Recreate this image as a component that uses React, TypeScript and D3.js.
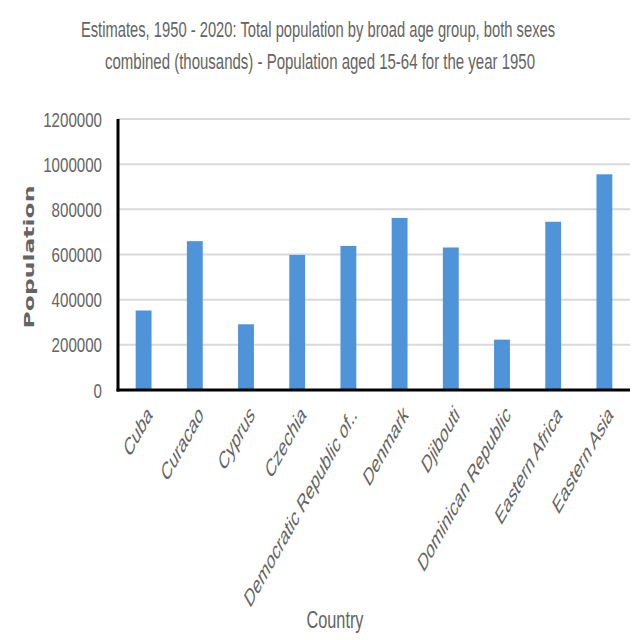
import React, { useLayoutEffect, useRef } from "react";
import * as d3 from "d3";

const countries = [
  "Cuba",
  "Curacao",
  "Cyprus",
  "Czechia",
  "Democratic Republic of..",
  "Denmark",
  "Djibouti",
  "Dominican Republic",
  "Eastern Africa",
  "Eastern Asia",
];
const population = [352000, 659000, 291000, 598000, 638000, 762000, 631000, 223000, 745000, 955000];
const yTicks = [0, 200000, 400000, 600000, 800000, 1000000, 1200000];
const titleLines = [
  "Estimates, 1950 - 2020: Total population by broad age group, both sexes",
  "combined (thousands) - Population aged 15-64 for the year 1950",
];
const xTitle = "Country";
const yTitle = "Population";

const W = 640;
const H = 640;
const left = 118;
const right = 630;
const top = 119;
const bottom = 390;
const textColor = "#646464";
const font = "'Liberation Sans', Arial, sans-serif";
const SX = 0.56;

function FitText(props: { x: number; y: number; width: number; size: number; children: string }) {
  const ref = useRef<SVGTextElement>(null);
  useLayoutEffect(() => {
    const el = ref.current;
    if (!el) return;
    const w = el.getComputedTextLength();
    if (w > 0) el.setAttribute("transform", `translate(${props.x},${props.y}) scale(${props.width / w},1)`);
  }, [props.x, props.y, props.width, props.children]);
  return (
    <text
      ref={ref}
      transform={`translate(${props.x},${props.y}) scale(0.6,1)`}
      textAnchor="middle"
      fontFamily={font}
      fontSize={props.size}
      fill={textColor}
    >
      {props.children}
    </text>
  );
}

export default function App() {
  const x = d3.scaleBand<string>().domain(countries).range([left, right]).paddingInner(0.69).paddingOuter(0.345);
  const y = d3.scaleLinear().domain([0, 1200000]).range([bottom, top]);

  return (
    <div style={{ position: "absolute", left: 0, top: 0 }}>
      <svg width={W} height={H} viewBox={`0 0 ${W} ${H}`} style={{ display: "block", background: "#fff" }}>
        <rect x={0} y={0} width={W} height={H} fill="#fff" />
        {/* title */}
        <FitText x={318} y={37} width={474} size={22}>
          {titleLines[0]}
        </FitText>
        <FitText x={320} y={69} width={430} size={22}>
          {titleLines[1]}
        </FitText>

        {/* gridlines */}
        {yTicks
          .filter((t) => t > 0)
          .map((t) => (
            <line key={"g" + t} x1={left} x2={right} y1={y(t)} y2={y(t)} stroke="#d9d9d9" strokeWidth={2} />
          ))}

        {/* y tick labels */}
        {yTicks.map((t) => {
          const s = String(t);
          return (
            <text
              key={"yt" + t}
              x={102}
              y={y(t)}
              dy="0.36em"
              textAnchor="end"
              fontFamily={font}
              fontSize={21}
              fill={textColor}
              textLength={s.length * 8.4}
              lengthAdjust="spacingAndGlyphs"
            >
              {s}
            </text>
          );
        })}

        {/* bars */}
        {countries.map((c, i) => (
          <rect
            key={c}
            x={x(c)}
            y={y(population[i])}
            width={x.bandwidth()}
            height={y(0) - y(population[i])}
            fill="#4f93d8"
          />
        ))}

        {/* axes */}
        <line x1={left} x2={left} y1={top} y2={bottom + 1.5} stroke="#000" strokeWidth={3} />
        <line x1={left - 1.5} x2={right} y1={bottom} y2={bottom} stroke="#000" strokeWidth={3} />

        {/* x labels */}
        {countries.map((c) => {
          const cx = (x(c) as number) + x.bandwidth() / 2;
          return (
            <text
              key={"xl" + c}
              transform={`translate(${cx + 6},${410}) scale(${SX},1) rotate(-45)`}
              textAnchor="end"
              dy="0.35em"
              fontFamily={font}
              fontSize={25}
              fill={textColor}
            >
              {c}
            </text>
          );
        })}

        {/* axis titles */}
        <text
          x={335}
          y={628}
          textAnchor="middle"
          fontFamily={font}
          fontSize={24}
          fill={textColor}
          textLength={57}
          lengthAdjust="spacingAndGlyphs"
        >
          {xTitle}
        </text>
        <text
          transform={`translate(29,257) scale(0.63,1) rotate(-90)`}
          textAnchor="middle"
          dy="0.35em"
          fontFamily="'DejaVu Sans', Verdana, sans-serif"
          fontWeight="bold"
          fontSize={23.5}
          fill={textColor}
        >
          {yTitle}
        </text>
      </svg>
    </div>
  );
}
